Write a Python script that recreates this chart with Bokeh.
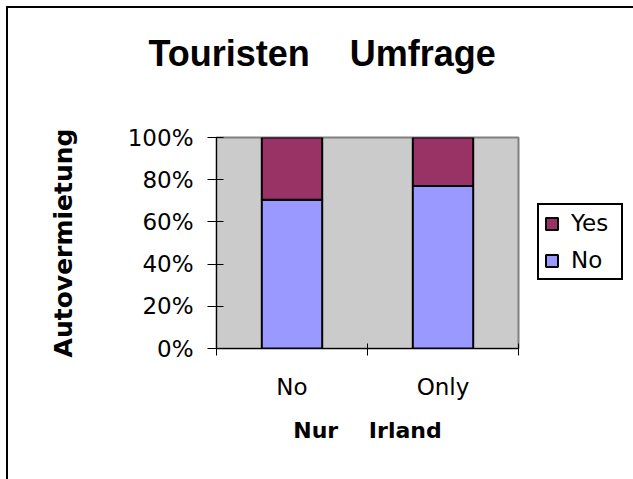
from bokeh.plotting import figure
from bokeh.models import (Range1d, FixedTicker, PrintfTickFormatter, Legend, LegendItem,
                          ColumnDataSource, Title)
from bokeh.embed import file_html
from bokeh.resources import INLINE

# ---- data ----
categories = ["No", "Only"]
no_values = [70.5, 77]
yes_values = [29.5, 23]
y_ticks = [0, 20, 40, 60, 80, 100]
series_keys = ["no", "yes"]
series_labels = ["No", "Yes"]
series_colors = ["#9999FF", "#993366"]
NB = "\u00a0"
title_text = "Touristen " + NB * 3 + "Umfrage"
x_title = "Nur " + NB * 3 + "Irland"
y_title = "Autovermietung"

x_pos = [i + 0.5 for i in range(len(categories))]
src = ColumnDataSource(dict(x=x_pos, no=no_values, yes=yes_values, cat=categories))

p = figure(frame_width=302, frame_height=211, output_backend="svg", toolbar_location=None,
           x_range=Range1d(0, len(categories)), y_range=Range1d(0, 100),
           min_border_left=208, min_border_right=115, min_border_top=129,
           min_border_bottom=131)
p.styles = {"border-top": "2px solid black", "border-left": "2px solid black",
            "margin": "6px 0 0 6px"}

p.background_fill_color = "#cbcbcb"
p.border_fill_color = "white"
p.outline_line_color = "#808080"
p.outline_line_width = 2
p.xgrid.visible = False
p.ygrid.visible = False

renderers = p.vbar_stack(series_keys, x="x", width=0.4, fill_color=series_colors,
                         line_color="black", line_width=2, source=src)

# title (with an empty spacer between title and frame)
p.title.text = title_text
p.title.text_font = "Liberation Sans"
p.title.text_font_size = "36px"
p.title.text_font_style = "bold"
p.title.text_color = "black"
p.title.align = "left"
p.title.offset = -68
p.title.standoff = 2
p.add_layout(Title(text=NB, text_font_size="1px", standoff=60), "above")

# y axis
ya = p.yaxis[0]
ya.ticker = FixedTicker(ticks=y_ticks)
ya.formatter = PrintfTickFormatter(format="%d%%")
ya.major_label_text_font = "DejaVu Sans"
ya.major_label_text_font_size = "23px"
ya.major_label_text_color = "black"
ya.major_tick_out = 9
ya.major_tick_in = 7
ya.minor_tick_out = 0
ya.minor_tick_in = 0
ya.major_label_standoff = 14
ya.axis_line_color = "black"
ya.major_tick_line_color = "black"
ya.axis_label = y_title
ya.axis_label_text_font = "DejaVu Sans"
ya.axis_label_text_font_style = "bold"
ya.axis_label_text_font_size = "25px"
ya.axis_label_text_color = "black"
ya.axis_label_standoff = 47

# x axis
xa = p.xaxis[0]
xa.ticker = FixedTicker(ticks=x_pos, minor_ticks=list(range(len(categories) + 1)))
xa.major_label_overrides = {x: c for x, c in zip(x_pos, categories)}
xa.major_label_text_font = "DejaVu Sans"
xa.major_label_text_font_size = "23px"
xa.major_label_text_color = "black"
xa.major_tick_out = 0
xa.major_tick_in = 0
xa.minor_tick_out = 7
xa.minor_tick_in = 5
xa.minor_tick_line_color = "black"
xa.major_label_standoff = 18
xa.axis_line_color = "black"
xa.axis_label = x_title
xa.axis_label_text_font = "DejaVu Sans"
xa.axis_label_text_font_style = "bold"
xa.axis_label_text_font_size = "22px"
xa.axis_label_text_color = "black"
xa.axis_label_standoff = 15

# legend (Yes on top), in the right panel
legend = Legend(items=[LegendItem(label=series_labels[1], renderers=[renderers[1]]),
                       LegendItem(label=series_labels[0], renderers=[renderers[0]])],
                location=(19, 68))
legend.border_line_color = "black"
legend.border_line_width = 2
legend.border_line_alpha = 1
legend.background_fill_color = "white"
legend.background_fill_alpha = 1
legend.label_text_font = "DejaVu Sans"
legend.label_text_font_size = "23px"
legend.label_text_color = "black"
legend.glyph_width = 15
legend.glyph_height = 15
legend.label_standoff = 12
legend.label_width = 45
legend.padding = 5
legend.spacing = 11
legend.margin = 0
p.add_layout(legend, "right")

open("out.html", "w").write(file_html(p, INLINE))
